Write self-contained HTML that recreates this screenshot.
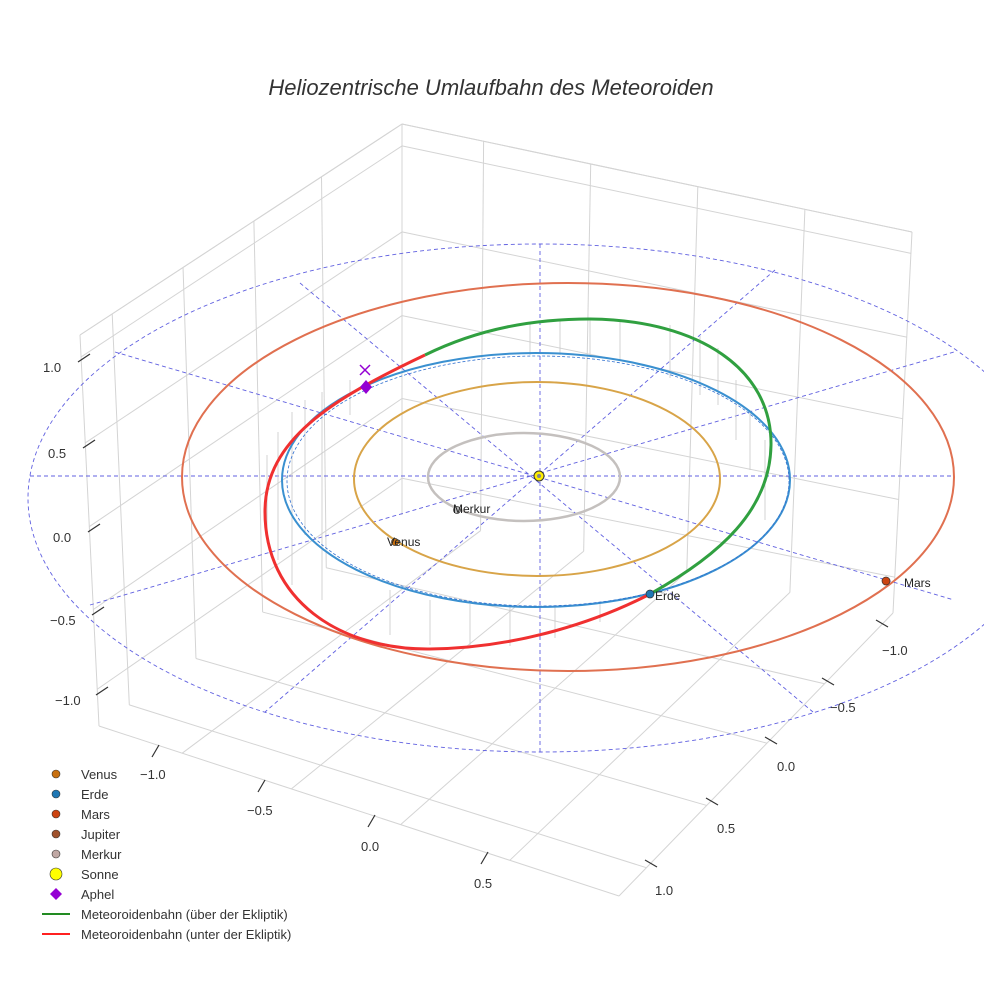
<!DOCTYPE html>
<html><head><meta charset="utf-8"><style>
body{margin:0;background:#fff;}
svg{display:block;font-family:"Liberation Sans",sans-serif;}
</style></head><body>
<svg id="s" width="984" height="984" viewBox="0 0 984 984" xmlns="http://www.w3.org/2000/svg">
<rect width="984" height="984" fill="#fff"/>
<g id="grid" stroke="#d4d4d4" stroke-width="1" fill="none"></g>
<text x="491" y="95" font-size="22" font-style="italic" fill="#333" text-anchor="middle">Heliozentrische Umlaufbahn des Meteoroiden</text>
<g stroke="#6060e0" stroke-width="0.9" stroke-dasharray="4,3" fill="none">
<ellipse cx="540" cy="498" rx="512" ry="254"/>
<line x1="30" y1="476" x2="954" y2="476"/>
<line x1="540" y1="244" x2="540" y2="752"/>
<line x1="115" y1="352" x2="954" y2="600"/>
<line x1="90" y1="605" x2="954" y2="352"/>
<line x1="300" y1="283" x2="813" y2="712"/>
<line x1="775" y1="270" x2="265" y2="712"/>
</g>
<g stroke="#c8c8c8" stroke-width="0.8">
<line x1="267" y1="455" x2="267" y2="530"/><line x1="278" y1="432" x2="278" y2="560"/><line x1="292" y1="412" x2="292" y2="585"/>
<line x1="305" y1="400" x2="305" y2="535"/><line x1="322" y1="392" x2="322" y2="600"/><line x1="350" y1="380" x2="350" y2="415"/>
<line x1="390" y1="590" x2="390" y2="635"/><line x1="430" y1="600" x2="430" y2="645"/><line x1="470" y1="604" x2="470" y2="648"/>
<line x1="510" y1="606" x2="510" y2="646"/><line x1="555" y1="606" x2="555" y2="638"/><line x1="600" y1="603" x2="600" y2="622"/>
<line x1="670" y1="325" x2="670" y2="378"/><line x1="700" y1="336" x2="700" y2="395"/>
<line x1="718" y1="348" x2="718" y2="405"/><line x1="736" y1="380" x2="736" y2="440"/><line x1="750" y1="410" x2="750" y2="470"/>
<line x1="765" y1="440" x2="765" y2="520"/><line x1="530" y1="322" x2="530" y2="355"/><line x1="560" y1="320" x2="560" y2="355"/><line x1="590" y1="320" x2="590" y2="356"/><line x1="620" y1="320" x2="620" y2="360"/>
</g>
<ellipse cx="568" cy="477" rx="386" ry="194" fill="none" stroke="#e07050" stroke-width="2"/>
<ellipse cx="536" cy="480" rx="254" ry="127" fill="none" stroke="#3a90d0" stroke-width="2"/>
<ellipse cx="538" cy="481" rx="251" ry="125" fill="none" stroke="#3070d0" stroke-width="0.8" stroke-dasharray="3,2"/>
<ellipse cx="537" cy="479" rx="183" ry="97" fill="none" stroke="#d8a448" stroke-width="2"/>
<ellipse cx="524" cy="477" rx="96" ry="44" fill="none" stroke="#c4c0be" stroke-width="2.5"/>
<path d="M425,355 C480,328 535,319 590,319 C700,320 772,370 771,445 C770,510 720,555 650,594" fill="none" stroke="#30a040" stroke-width="3"/>
<path d="M425,355 C330,400 266,440 265,510 C264,600 340,650 430,649 C520,648 600,620 650,594" fill="none" stroke="#f03030" stroke-width="3"/>
<circle cx="539" cy="476" r="5" fill="#ffee00" stroke="#333" stroke-width="1"/>
<circle cx="539" cy="476" r="2" fill="#888"/>
<circle cx="886" cy="581" r="4" fill="#cc4411" stroke="#333" stroke-width="0.7"/>
<text x="904" y="587" font-size="12" fill="#222">Mars</text>
<circle cx="650" cy="594" r="4" fill="#1f77b4" stroke="#333" stroke-width="0.7"/>
<text x="655" y="600" font-size="12" fill="#222">Erde</text>
<circle cx="395" cy="542" r="3.5" fill="#c87010" stroke="#333" stroke-width="0.7"/>
<text x="387" y="546" font-size="12" fill="#222">Venus</text>
<circle cx="457" cy="510" r="3.5" fill="#bbb" stroke="#333" stroke-width="0.7"/>
<text x="453" y="513" font-size="12" fill="#222">Merkur</text>
<path d="M366,380 L372,387 L366,394 L360,387Z" fill="#9400d3"/>
<path d="M360,365 L370,375 M370,365 L360,375" stroke="#9400d3" stroke-width="1.5"/>
<g font-size="13" fill="#333">
<text x="43" y="372">1.0</text><text x="48" y="458">0.5</text><text x="53" y="542">0.0</text><text x="50" y="625">−0.5</text><text x="55" y="705">−1.0</text>
<text x="140" y="779">−1.0</text><text x="247" y="815">−0.5</text><text x="361" y="851">0.0</text><text x="474" y="888">0.5</text>
<text x="882" y="655">−1.0</text><text x="830" y="712">−0.5</text><text x="777" y="771">0.0</text><text x="717" y="833">0.5</text><text x="655" y="895">1.0</text>
</g>
<g stroke="#333" stroke-width="1.2">
<line x1="78" y1="362" x2="90" y2="354"/><line x1="83" y1="448" x2="95" y2="440"/><line x1="88" y1="532" x2="100" y2="524"/><line x1="92" y1="615" x2="104" y2="607"/><line x1="96" y1="695" x2="108" y2="687"/>
<line x1="159" y1="745" x2="152" y2="757"/><line x1="265" y1="780" x2="258" y2="792"/><line x1="375" y1="815" x2="368" y2="827"/><line x1="488" y1="852" x2="481" y2="864"/>
<line x1="876" y1="620" x2="888" y2="627"/><line x1="822" y1="678" x2="834" y2="685"/><line x1="765" y1="737" x2="777" y2="744"/><line x1="706" y1="798" x2="718" y2="805"/><line x1="645" y1="860" x2="657" y2="867"/>
</g>
<g font-size="13" fill="#333">
<circle cx="56" cy="774" r="4" fill="#c87010" stroke="#333" stroke-width="0.6"/><text x="81" y="779">Venus</text>
<circle cx="56" cy="794" r="4" fill="#1f77b4" stroke="#333" stroke-width="0.6"/><text x="81" y="799">Erde</text>
<circle cx="56" cy="814" r="4" fill="#cc4411" stroke="#333" stroke-width="0.6"/><text x="81" y="819">Mars</text>
<circle cx="56" cy="834" r="4" fill="#a0522d" stroke="#333" stroke-width="0.6"/><text x="81" y="839">Jupiter</text>
<circle cx="56" cy="854" r="4" fill="#c0a8a4" stroke="#333" stroke-width="0.6"/><text x="81" y="859">Merkur</text>
<circle cx="56" cy="874" r="6" fill="#ffff00" stroke="#333" stroke-width="0.6"/><text x="81" y="879">Sonne</text>
<path d="M56,888 L62,894 L56,900 L50,894Z" fill="#9400d3"/><text x="81" y="899">Aphel</text>
<line x1="42" y1="914" x2="70" y2="914" stroke="#228b22" stroke-width="2"/><text x="81" y="919">Meteoroidenbahn (über der Ekliptik)</text>
<line x1="42" y1="934" x2="70" y2="934" stroke="#ff2020" stroke-width="2"/><text x="81" y="939">Meteoroidenbahn (unter der Ekliptik)</text>
</g>
</svg>
<script>
(function(){
var g=document.getElementById('grid');
function L(a,b){var l=document.createElementNS('http://www.w3.org/2000/svg','line');l.setAttribute('x1',a[0]);l.setAttribute('y1',a[1]);l.setAttribute('x2',b[0]);l.setAttribute('y2',b[1]);g.appendChild(l);}
function lerp(a,b,t){return [a[0]+(b[0]-a[0])*t,a[1]+(b[1]-a[1])*t];}
var LT=[80,335],BT=[402,124],RT=[912,232],LB=[99,726],BB=[402,515],RB=[893,613],F=[619,896];
var zf=[0,0.056,0.276,0.49,0.702,0.906];
L(LT,BT);L(BT,BB);L(LT,LB);
zf.forEach(function(f){L(lerp(LT,LB,f),lerp(BT,BB,f));});
var u=[0.1,0.32,0.54,0.75];
u.forEach(function(t){L(lerp(LT,BT,t),lerp(LB,BB,t));});
L(BT,RT);L(RT,RB);
zf.forEach(function(f){L(lerp(BT,BB,f),lerp(RT,RB,f));});
var v=[0.16,0.37,0.58,0.79];
v.forEach(function(t){L(lerp(BT,RT,t),lerp(BB,RB,t));});
L(LB,F);L(F,RB);
u.forEach(function(t){L(lerp(LB,BB,t),lerp(F,RB,t));});
v.forEach(function(t){L(lerp(BB,RB,t),lerp(LB,F,t));});
})();
</script>
</body></html>
